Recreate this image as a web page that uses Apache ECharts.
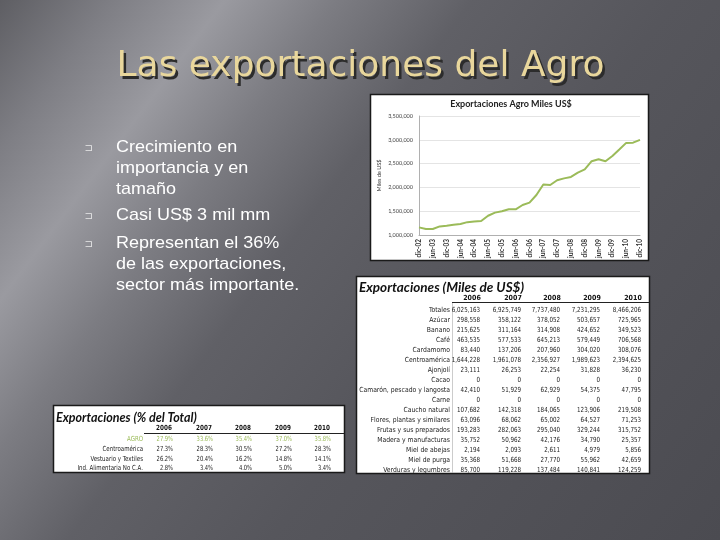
<!DOCTYPE html>
<html><head><meta charset="utf-8">
<script src="https://cdn.jsdelivr.net/npm/echarts/dist/echarts.min.js"></script>
<style>html,body{margin:0;padding:0;background:#555;}#c{width:720px;height:540px;}</style>
</head><body><div id="c"></div>
<script>
// ---------- DATA ----------
const slideTitle = 'Las exportaciones del Agro';
const bulletParas = [
  ['Crecimiento en', 'importancia y en', 'tamaño'],
  ['Casi US$ 3 mil mm'],
  ['Representan el 36%', 'de las exportaciones,', 'sector más importante.']
];
const chartTitle = 'Exportaciones Agro Miles US$';
const yAxisName = 'Miles de US$';
const periods = ['dic-02','mar-03','jun-03','sep-03','dic-03','mar-04','jun-04','sep-04','dic-04',
  'mar-05','jun-05','sep-05','dic-05','mar-06','jun-06','sep-06','dic-06','mar-07','jun-07','sep-07',
  'dic-07','mar-08','jun-08','sep-08','dic-08','mar-09','jun-09','sep-09','dic-09','mar-10','jun-10',
  'sep-10','dic-10'];
const agroExports = [1160000,1125000,1125000,1180000,1195000,1215000,1230000,1270000,1285000,
  1295000,1405000,1470000,1500000,1540000,1540000,1630000,1680000,1840000,2060000,2050000,
  2150000,2190000,2220000,2310000,2380000,2550000,2590000,2550000,2660000,2795000,2935000,
  2940000,3000000];
const yMin = 1000000, yMax = 3500000, yStep = 500000;

const table1Title = 'Exportaciones (Miles de US$)';
const years = ['2006','2007','2008','2009','2010'];
const t1Labels = ['Totales','Azúcar','Banano','Café','Cardamomo','Centroamérica','Ajonjolí','Cacao',
  'Camarón, pescado y langosta','Carne','Caucho natural','Flores, plantas y similares',
  'Frutas y sus preparados','Madera y manufacturas','Miel de abejas','Miel de purga','Verduras y legumbres'];
const t1Values = [
  [6025163,6925749,7737480,7231295,8466206],
  [298558,358122,378052,503657,725965],
  [215625,311164,314908,424652,349523],
  [463535,577533,645213,579449,706568],
  [83440,137206,207960,304020,308076],
  [1644228,1961078,2356927,1989623,2394625],
  [23111,26253,22254,31828,36230],
  [0,0,0,0,0],
  [42410,51929,62929,54375,47795],
  [0,0,0,0,0],
  [107682,142318,184065,123906,219508],
  [63096,68062,65002,64527,71253],
  [193283,282063,295040,329244,315752],
  [35752,50962,42176,34790,25357],
  [2194,2093,2611,4979,5856],
  [35368,51668,27770,55962,42659],
  [85700,119228,137484,140841,124259]
];
const table2Title = 'Exportaciones (% del Total)';
const t2Labels = ['AGRO','Centroamérica','Vestuario y Textiles','Ind. Alimentaria No C.A.'];
const t2Values = [
  [27.9,33.6,35.4,37.0,35.8],
  [27.3,28.3,30.5,27.2,28.3],
  [26.2,20.4,16.2,14.8,14.1],
  [2.8,3.4,4.0,5.0,3.4]
];

// ---------- BUILD ----------
const fmt = v => v.toLocaleString('en-US');
const G = [];
const T = (text, x, y, font, fill, align, z, sx) => G.push({
  type: 'text', z: z || 10, silent: true, x, y, scaleX: sx || 1,
  style: { text, x: 0, y: 0, font, fill, textAlign: align || 'left', textVerticalAlign: 'middle' }
});

// background
G.push({ type: 'rect', z: -20, silent: true, shape: { x: 0, y: 0, width: 720, height: 540 },
  style: { fill: new echarts.graphic.LinearGradient(0, 0, 1, 1, [
    { offset: 0, color: '#5e5e63' }, { offset: 0.1, color: '#7e7e84' },
    { offset: 0.2, color: '#9a9aa0' }, { offset: 0.3, color: '#7c7c82' },
    { offset: 0.42, color: '#606066' }, { offset: 0.6, color: '#56565c' },
    { offset: 1, color: '#4b4b51' }]) } });

// title with shadow
T(slideTitle, 363, 70, '36px "DejaVu Sans"', '#2c2c2c', 'center', 5);
T(slideTitle, 360.5, 67, '36px "DejaVu Sans"', '#e9d79c', 'center', 6);

// bullets
const paraY = [147, 215, 243];
const lineH = 21;
bulletParas.forEach((lines, p) => {
  T('⊐', 89, paraY[p] + 1, '10px "DejaVu Sans"', '#e8e8e8', 'center');
  lines.forEach((ln, i) => T(ln, 116, paraY[p] + i * lineH, '17px "Liberation Sans", Arial', '#ffffff', 'left', 10, 1.06));
});

// chart box
G.push({ type: 'rect', z: -5, silent: true, shape: { x: 370.5, y: 94.5, width: 278, height: 166 },
  style: { fill: '#ffffff', stroke: '#1a1a1a', lineWidth: 1.5 } });
T(chartTitle, 511, 104, 'bold 9px Lato', '#222', 'center');

// table 1
const tf = '7px "Liberation Sans Narrow", "DejaVu Sans Condensed", sans-serif';
G.push({ type: 'rect', z: -5, silent: true, shape: { x: 356.5, y: 276.5, width: 293, height: 197 },
  style: { fill: '#ffffff', stroke: '#1a1a1a', lineWidth: 1.5 } });
T(table1Title, 359, 288, 'bold italic 13.5px Lato', '#111');
const t1Right = [480, 521, 560, 600, 641];
years.forEach((yr, j) => T(yr, t1Right[j] - 8, 298, 'bold ' + tf, '#111', 'center'));
G.push({ type: 'line', z: 8, silent: true, shape: { x1: 452, y1: 302.5, x2: 649, y2: 302.5 }, style: { stroke: '#222', lineWidth: 1 } });
G.push({ type: 'line', z: 8, silent: true, shape: { x1: 452.5, y1: 303, x2: 452.5, y2: 473 }, style: { stroke: '#aaa', lineWidth: 0.6 } });
t1Labels.forEach((lab, i) => {
  const y = 310.5 + i * 10;
  T(lab, 450, y, tf, '#222', 'right', 10, 0.97);
  t1Values[i].forEach((v, j) => T(fmt(v), t1Right[j], y, tf, '#222', 'right', 10, 0.88));
});

// table 2
G.push({ type: 'rect', z: -5, silent: true, shape: { x: 53.5, y: 405.5, width: 291, height: 67 },
  style: { fill: '#ffffff', stroke: '#1a1a1a', lineWidth: 1.5 } });
T(table2Title, 56, 418, 'bold italic 12.5px Lato', '#111');
const t2Right = [173, 213, 252, 292, 331];
years.forEach((yr, j) => T(yr, t2Right[j] - 9, 428.5, 'bold ' + tf, '#111', 'center', 10, 0.9));
G.push({ type: 'line', z: 8, silent: true, shape: { x1: 144, y1: 433.5, x2: 344, y2: 433.5 }, style: { stroke: '#222', lineWidth: 1 } });
t2Labels.forEach((lab, i) => {
  const y = 439.5 + i * 9.7;
  const col = i === 0 ? '#9bbb59' : '#222';
  T(lab, 143, y, tf, col, 'right', 10, 0.87);
  t2Values[i].forEach((v, j) => T(v.toFixed(1) + '%', t2Right[j], y, tf, col, 'right', 10, 0.82));
});

const chart = echarts.init(document.getElementById('c'), null, { renderer: 'canvas' });
chart.setOption({
  animation: false,
  backgroundColor: 'transparent',
  graphic: { elements: G },
  grid: { left: 419, top: 116, width: 221, height: 119, containLabel: false },
  xAxis: {
    type: 'category', data: periods, boundaryGap: false,
    axisLine: { lineStyle: { color: '#b0b0b0' } }, axisTick: { show: false },
    axisLabel: { interval: 1, rotate: 90, fontSize: 6.5, fontWeight: 'bold', color: '#333', margin: 4, fontFamily: 'Lato' },
    splitLine: { show: false }
  },
  yAxis: {
    type: 'value', min: yMin, max: yMax, interval: yStep,
    name: yAxisName, nameLocation: 'middle', nameGap: 37, nameRotate: 90,
    nameTextStyle: { fontSize: 5.5, color: '#333', fontFamily: 'Lato' },
    axisLine: { show: true, lineStyle: { color: '#b0b0b0' } }, axisTick: { show: false },
    axisLabel: { fontSize: 5.5, color: '#444', margin: 6, fontFamily: 'Lato', formatter: v => fmt(v) },
    splitLine: { lineStyle: { color: '#e4e4e4' } }
  },
  series: [{
    type: 'line', data: agroExports, symbol: 'none',
    lineStyle: { color: '#9bbb59', width: 2 }, z: 5
  }]
});
</script></body></html>
